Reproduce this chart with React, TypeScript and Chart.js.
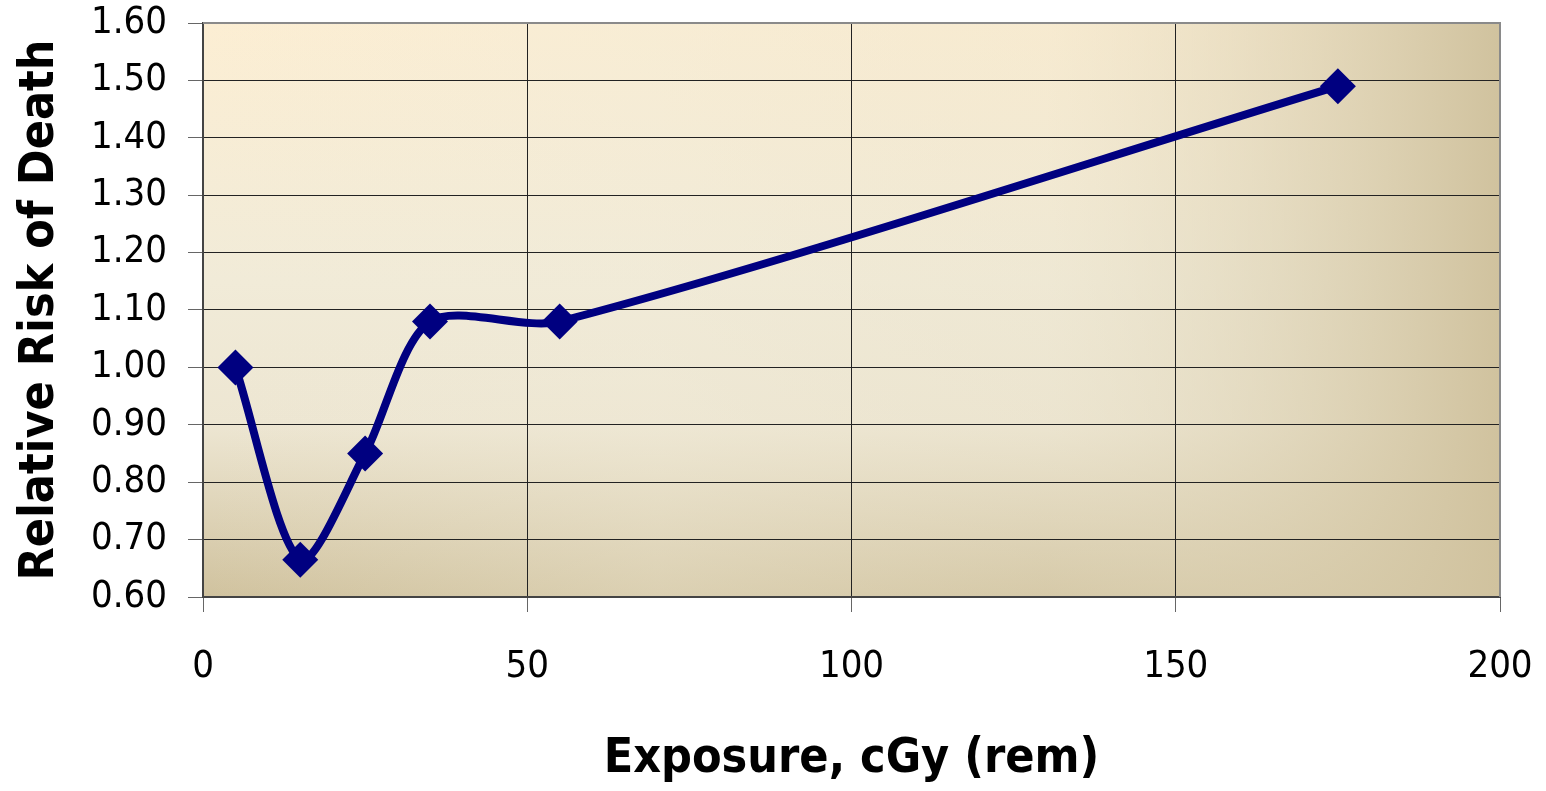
import React, { useEffect, useRef } from "react";
import { Chart, registerables } from "chart.js";

Chart.register(...registerables);

const exposure = [5, 15, 25, 35, 55, 175];
const relativeRisk = [1.0, 0.665, 0.85, 1.08, 1.08, 1.49];
const xTicks = [0, 50, 100, 150, 200];
const yTicks = [0.6, 0.7, 0.8, 0.9, 1.0, 1.1, 1.2, 1.3, 1.4, 1.5, 1.6];

const FONT = "'Liberation Sans Narrow', 'DejaVu Sans Condensed', 'Roboto', sans-serif";

const bgPlugin = {
  id: "plotBg",
  beforeDraw(chart: any) {
    const { ctx, chartArea } = chart;
    if (!chartArea) return;
    const { left, top, right, bottom } = chartArea;
    const w = right - left;
    const h = bottom - top;
    ctx.save();
    const v = ctx.createLinearGradient(0, top, 0, bottom);
    v.addColorStop(0, "#FCEED3");
    v.addColorStop(0.45, "#F1EBD8");
    v.addColorStop(0.7, "#EDE6D2");
    v.addColorStop(1, "#D0C29E");
    ctx.fillStyle = v;
    ctx.fillRect(left, top, w, h);
    const hz = ctx.createLinearGradient(left, 0, right, 0);
    hz.addColorStop(0, "rgba(240,234,215,0)");
    hz.addColorStop(0.35, "rgba(240,234,215,0.35)");
    hz.addColorStop(0.65, "rgba(232,224,200,0.25)");
    hz.addColorStop(1, "rgba(208,194,158,1)");
    ctx.fillStyle = hz;
    ctx.fillRect(left, top, w, h);
    ctx.restore();
  },
  afterDraw(chart: any) {
    const { ctx, chartArea } = chart;
    const { left, top, right, bottom } = chartArea;
    ctx.save();
    ctx.strokeStyle = "#8a8a8a";
    ctx.lineWidth = 2;
    ctx.beginPath();
    ctx.moveTo(left, top);
    ctx.lineTo(right, top);
    ctx.lineTo(right, bottom);
    ctx.stroke();
    ctx.restore();
  },
};

const zeroPad = (s: any) => {
  s.paddingTop = 0;
  s.paddingBottom = 0;
  s.paddingLeft = 0;
  s.paddingRight = 0;
};

export default function App() {
  const ref = useRef<HTMLCanvasElement | null>(null);
  useEffect(() => {
    if (!ref.current) return;
    const chart = new Chart(ref.current, {
      type: "line",
      data: {
        datasets: [
          {
            data: exposure.map((x, i) => ({ x, y: relativeRisk[i] })),
            borderColor: "#000080",
            backgroundColor: "#000080",
            borderWidth: 8,
            pointStyle: "rectRot",
            pointRadius: 18,
            pointBorderWidth: 0,
            tension: 0.28,
            fill: false,
          },
        ],
      },
      options: {
        animation: false,
        responsive: false,
        maintainAspectRatio: false,
        layout: { padding: { top: 23, right: 46, left: 0, bottom: 0 } },
        plugins: { legend: { display: false }, tooltip: { enabled: false } },
        scales: {
          x: {
            type: "linear",
            min: 0,
            max: 200,
            afterBuildTicks: (s: any) => {
              s.ticks = xTicks.map((v) => ({ value: v }));
            },
            afterFit: (s: any) => {
              s.height = 194;
              zeroPad(s);
            },
            ticks: {
              color: "#000",
              font: { family: FONT, size: 38 },
              padding: 32,
              maxRotation: 0,
            },
            grid: { color: "#222", lineWidth: 1, tickLength: 15, tickColor: "#666" },
            border: { color: "#444", width: 2 },
            title: {
              display: true,
              text: "Exposure, cGy (rem)",
              color: "#000",
              font: { family: FONT, size: 48, weight: "bold", lineHeight: 1 },
              padding: { top: 0, bottom: 7 },
            },
          },
          y: {
            type: "linear",
            min: 0.6,
            max: 1.6,
            afterBuildTicks: (s: any) => {
              s.ticks = yTicks.map((v) => ({ value: v }));
            },
            afterFit: (s: any) => {
              s.width = 203;
              zeroPad(s);
            },
            ticks: {
              color: "#000",
              font: { family: FONT, size: 38 },
              padding: 21,
              callback: (v: any) => Number(v).toFixed(2),
            },
            grid: { color: "#222", lineWidth: 1, tickLength: 15, tickColor: "#666" },
            border: { color: "#444", width: 2 },
            title: {
              display: true,
              text: "Relative Risk of Death",
              color: "#000",
              font: { family: FONT, size: 48, weight: "bold", lineHeight: 1 },
              padding: { top: 17, bottom: 0 },
            },
          },
        },
      },
      plugins: [bgPlugin],
    });
    return () => chart.destroy();
  }, []);
  return (
    <div style={{ position: "fixed", left: 0, top: 0, width: 1546, height: 791, background: "#fff" }}>
      <canvas ref={ref} width={1546} height={791} style={{ display: "block" }} />
    </div>
  );
}
